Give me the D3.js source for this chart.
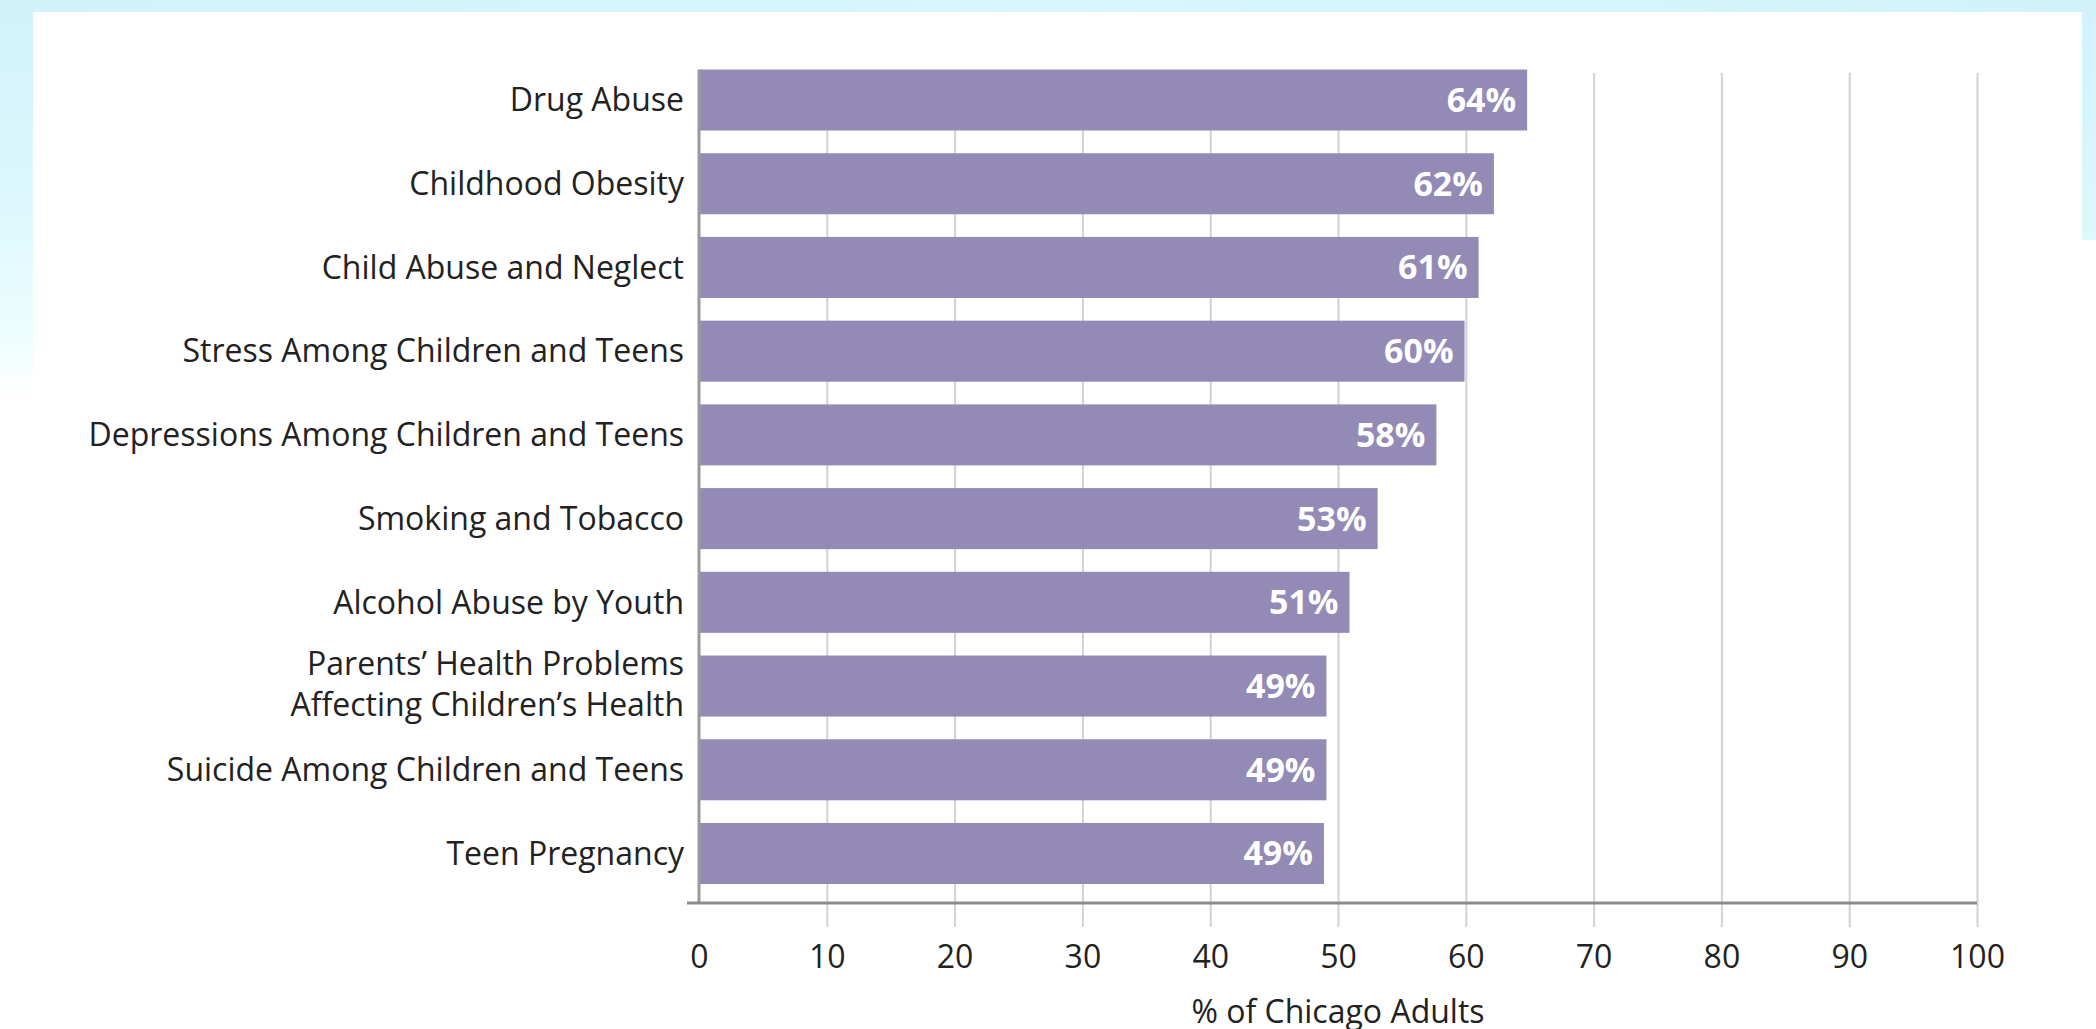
<!DOCTYPE html>
<meta charset="utf-8" />
<style>
  body {
    margin: 0;
    width: 2096px;
    height: 1029px;
    overflow: hidden;
    background: #fff;
    position: relative;
  }
  .bg-top { position: absolute; left: 0; top: 0; width: 2096px; height: 13px;
    background: linear-gradient(to right, #d2f1fb, #d8f6fc 50%, #d2f2fb); }
  .bg-left { position: absolute; left: 0; top: 0; width: 33px; height: 400px;
    background: linear-gradient(to bottom, #d2f1fb 0, #dcf8fc 200px, #ecfdfe 330px, #fff 400px); }
  .bg-right { position: absolute; left: 2082px; top: 0; width: 14px; height: 240px;
    background: linear-gradient(to bottom, #d2f1fb, #dafafd); }
  svg { position: absolute; left: 0; top: 0; }
  text { font-family: "Open Sans", sans-serif; fill: #222; }
  .grid line { stroke: #d2d2d2; stroke-width: 2px; }
  .value { fill: #fff; font-weight: 700; }
</style>
<body>
  <div class="bg-top"></div>
  <div class="bg-left"></div>
  <div class="bg-right"></div>
  <script src="https://d3js.org/d3.v7.min.js"></script>
  <script>
    // survey answers, top to bottom
    var categories = [
      'Drug Abuse',
      'Childhood Obesity',
      'Child Abuse and Neglect',
      'Stress Among Children and Teens',
      'Depressions Among Children and Teens',
      'Smoking and Tobacco',
      'Alcohol Abuse by Youth',
      'Parents\u2019 Health Problems|Affecting Children\u2019s Health',
      'Suicide Among Children and Teens',
      'Teen Pregnancy'
    ];
    var values = [64.8, 62.2, 61.0, 59.9, 57.7, 53.1, 50.9, 49.1, 49.1, 48.9];
    var valueLabels = ['64%', '62%', '61%', '60%', '58%', '53%', '51%', '49%', '49%', '49%'];
    var ticks = [0, 10, 20, 30, 40, 50, 60, 70, 80, 90, 100];
    var axisTitle = '% of Chicago Adults';

    var width = 2096, height = 1029;
    var x0 = 699, x1 = 1977;
    var yTop = 69.5, yBottom = 884, axisY = 903, gridTop = 73, gridBottom = 927;

    var svg = d3.select('body').append('svg')
      .attr('width', width)
      .attr('height', height);

    // white card
    svg.append('rect')
      .attr('x', 33).attr('y', 12)
      .attr('width', 2082 - 33).attr('height', height)
      .attr('fill', '#fff');

    var x = d3.scaleLinear().domain([0, 100]).range([x0, x1]);
    var y = d3.scaleBand().domain(categories).range([yTop, yBottom])
      .paddingInner(0.271).paddingOuter(0);

    // vertical grid lines
    svg.append('g')
      .attr('class', 'grid')
      .attr('transform', 'translate(0,' + gridBottom + ')')
      .call(d3.axisBottom(x).tickValues(ticks.slice(1)).tickSize(-(gridBottom - gridTop)).tickFormat(''))
      .call(function (g) { g.select('.domain').remove(); });

    // bars
    svg.append('g').selectAll('rect')
      .data(values)
      .join('rect')
      .attr('x', x(0))
      .attr('y', function (d, i) { return y(categories[i]); })
      .attr('width', function (d) { return x(d) - x(0); })
      .attr('height', y.bandwidth())
      .attr('fill', '#938bb6');

    // value labels inside the bars
    svg.append('g').selectAll('text')
      .data(values)
      .join('text')
      .attr('class', 'value')
      .attr('x', function (d) { return x(d) - 11; })
      .attr('y', function (d, i) { return y(categories[i]) + y.bandwidth() / 2; })
      .attr('dy', '0.35em')
      .attr('text-anchor', 'end')
      .style('font-size', '34px')
      .text(function (d, i) { return valueLabels[i]; });

    // category axis
    var yAxis = svg.append('g')
      .attr('transform', 'translate(' + x0 + ',0)')
      .call(d3.axisLeft(y).tickSize(0).tickPadding(15));
    yAxis.select('.domain').remove();
    yAxis.selectAll('text')
      .style('font-size', '32px')
      .style('font-family', '"Open Sans", sans-serif')
      .attr('fill', '#222')
      .attr('dy', '0.35em')
      .each(function (d) {
        var parts = d.split('|');
        if (parts.length < 2) return;
        var t = d3.select(this).text(null).attr('dy', null);
        t.append('tspan').attr('x', -15).attr('dy', '-11px').text(parts[0]);
        t.append('tspan').attr('x', -15).attr('dy', '41px').text(parts[1]);
      });

    // axis lines
    svg.append('line')
      .attr('x1', x0).attr('x2', x0)
      .attr('y1', yTop).attr('y2', axisY)
      .attr('stroke', '#9a9a9a').attr('stroke-width', 3);
    svg.append('line')
      .attr('x1', x0 - 12).attr('x2', x1)
      .attr('y1', axisY).attr('y2', axisY)
      .attr('stroke', '#8c8c8c').attr('stroke-width', 3);

    // tick labels
    var xAxis = svg.append('g')
      .attr('transform', 'translate(0,' + axisY + ')')
      .call(d3.axisBottom(x).tickValues(ticks).tickSize(0).tickPadding(42));
    xAxis.select('.domain').remove();
    xAxis.selectAll('text')
      .style('font-size', '32px')
      .style('font-family', '"Open Sans", sans-serif')
      .attr('fill', '#222');

    // axis title
    svg.append('text')
      .attr('x', x(50))
      .attr('y', 1023)
      .attr('text-anchor', 'middle')
      .style('font-size', '32px')
      .text(axisTitle);
  </script>
</body>
